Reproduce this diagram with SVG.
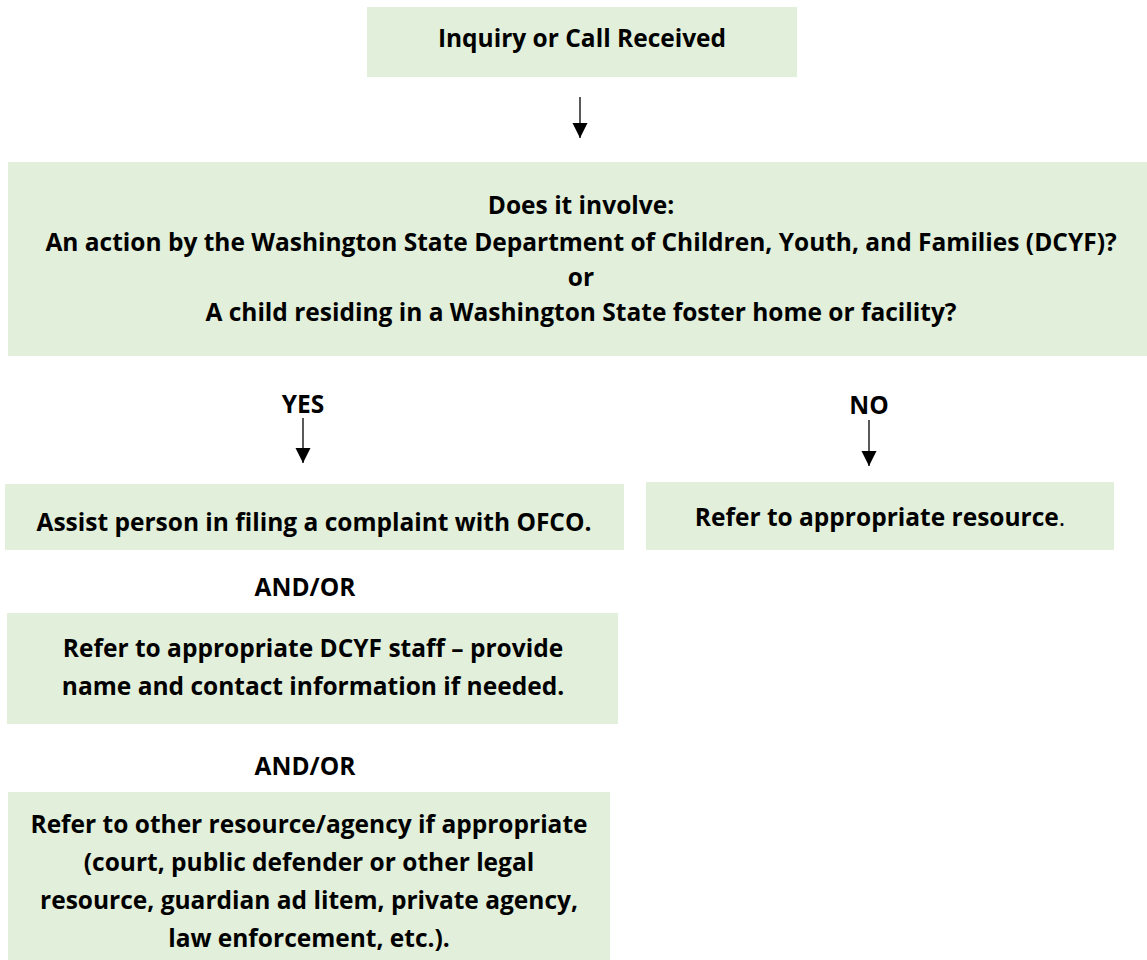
<svg xmlns="http://www.w3.org/2000/svg" width="1147" height="960" viewBox="0 0 1147 960">
  <style>
    .box { fill: #E2EFDA; stroke: none; }
    text { font-family: "Open Sans", "Liberation Sans", sans-serif; font-weight: 700; font-size: 24.5px; fill: #000; text-anchor: middle; }
    .edge { stroke: #000; stroke-width: 1.3; fill: none; }
  </style>
  <defs>
    <marker id="arrow" markerUnits="userSpaceOnUse" markerWidth="16" markerHeight="16" refX="15" refY="7.5" orient="auto">
      <path d="M0,0 L15,7.5 L0,15 Z" fill="#000"/>
    </marker>
  </defs>
  <rect width="1147" height="960" fill="#fff"/>

  <g id="connectors">
    <line class="edge" x1="580" y1="97" x2="580" y2="138" marker-end="url(#arrow)"/>
    <line class="edge" x1="303" y1="418" x2="303" y2="463" marker-end="url(#arrow)"/>
    <line class="edge" x1="869" y1="420" x2="869" y2="466" marker-end="url(#arrow)"/>
    <text x="303" y="413">YES</text>
    <text x="869" y="414">NO</text>
    <text x="305" y="596">AND/OR</text>
    <text x="305" y="775">AND/OR</text>
  </g>

  <g id="node-inquiry">
    <rect class="box" x="367" y="7" width="430" height="70"/>
    <text x="582" y="47">Inquiry or Call Received</text>
  </g>

  <g id="node-question">
    <rect class="box" x="8" y="162" width="1139" height="194"/>
    <text x="581" y="214">Does it involve:</text>
    <text x="581" y="251">An action by the Washington State Department of Children, Youth, and Families (DCYF)?</text>
    <text x="581" y="286">or</text>
    <text x="581" y="321">A child residing in a Washington State foster home or facility?</text>
  </g>

  <g id="node-assist">
    <rect class="box" x="5" y="484" width="619" height="66"/>
    <text x="314" y="531">Assist person in filing a complaint with OFCO.</text>
  </g>

  <g id="node-refer-resource">
    <rect class="box" x="646" y="482" width="468" height="68"/>
    <text x="880" y="526">Refer to appropriate resource<tspan font-weight="400">.</tspan></text>
  </g>

  <g id="node-refer-dcyf">
    <rect class="box" x="7" y="613" width="611" height="111"/>
    <text x="313" y="657">Refer to appropriate DCYF staff – provide</text>
    <text x="313" y="695">name and contact information if needed.</text>
  </g>

  <g id="node-refer-other">
    <rect class="box" x="8" y="792" width="602" height="168"/>
    <text x="309" y="833">Refer to other resource/agency if appropriate</text>
    <text x="309" y="871">(court, public defender or other legal</text>
    <text x="309" y="909">resource, guardian ad litem, private agency,</text>
    <text x="309" y="947">law enforcement, etc.).</text>
  </g>
</svg>
